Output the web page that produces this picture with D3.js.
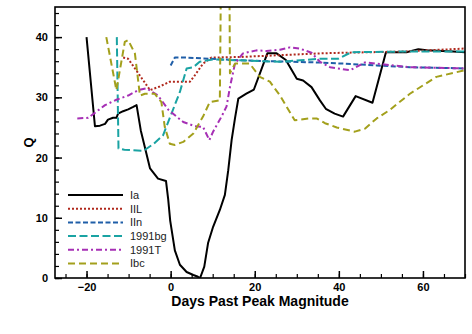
<!DOCTYPE html>
<html>
<head>
<meta charset="utf-8">
<script src="https://cdn.jsdelivr.net/npm/d3@7"></script>
<style>
  body { margin: 0; background: #fff; }
  svg { font-family: "Liberation Sans", Arial, sans-serif; }
</style>
</head>
<body>
<svg id="chart"></svg>
<script>
// values (days past peak, Q)
const iaDays = [-20, -18, -16.8, -15.6, -14.9, -13.7, -12.9, -12.5, -11.3, -10.1, -8.9, -8.1, -7.1, -4.9, -3, -1.1, -0.6, -0.1, 1, 2.2, 3.8, 5.4, 6.5, 7, 8, 8.9, 10.1, 11.7, 12.9, 13.7, 14.5, 15.3, 16.1, 18, 19.8, 23, 25.2, 27.4, 30, 31.5, 33.5, 35.5, 36.9, 39, 41, 44, 48, 51.2, 56.1, 58.9, 60.9, 67.2, 70];
const iaQ = [40, 25.2, 25.3, 25.6, 26.3, 26.6, 26.6, 27.3, 27.7, 28, 28.4, 28.7, 24.5, 18.2, 16.5, 16.1, 13.2, 9.5, 4.6, 2.2, 1, 0.5, 0.2, 0, 1.9, 5.8, 8.5, 11.3, 13.8, 17.9, 22.9, 26.5, 29.8, 30.6, 31.3, 37.3, 37.3, 36.2, 33.1, 32.8, 31.7, 29.5, 28.1, 27.3, 26.8, 30.2, 29.1, 37.5, 37.5, 38, 37.8, 37.6, 37.5];

const iilDays = [-11.3, -10.1, -7.7, -4.9, -2.6, -0.2, 4.6, 5.8, 7.7, 9.7, 16.5, 26, 35.5, 41, 55, 70];
const iilQ = [36.6, 36.4, 34, 31.2, 31.8, 32.6, 32.6, 33.7, 35.6, 36.6, 36.7, 37, 37.3, 37.4, 37.6, 38.1];

const iinDays = [0, 1, 3.8, 14.9, 23.6, 34.7, 41, 49, 56.9, 70];
const iinQ = [35.3, 36.6, 36.6, 36.2, 36.0, 35.8, 35.6, 35.3, 35.0, 34.8];

const bgDays = [-12.8, -12.4, -11, -6.5, -4, -1.8, 0.2, 2.2, 3.8, 5.4, 6.9, 10.1, 26, 35.5, 39.8, 43, 55, 70];
const bgQ = [40, 21.5, 21.3, 21.1, 22.3, 23.7, 27.3, 30.9, 34.8, 35.0, 35.9, 36.3, 35.9, 36.4, 36.4, 37.5, 37.6, 37.6];

const tDays = [-22.2, -19.6, -15.6, -12.9, -10.1, -7.7, -5.7, -3, -0.5, 3, 5.8, 7.7, 9.2, 10.1, 12.1, 13.3, 14.1, 15.3, 17.2, 20.4, 22.8, 26, 28.4, 30.7, 33.5, 35.5, 37.9, 42.7, 46.2, 49, 56.9, 70];
const tQ = [26.5, 26.6, 28.7, 29.6, 30.3, 31.2, 31.5, 30.3, 27.9, 25.9, 25.2, 25.1, 22.9, 24.3, 26.8, 28.5, 31.7, 35.6, 37.3, 37.8, 37.7, 37.9, 38.3, 38.1, 37.4, 35.9, 35.0, 34.5, 35.8, 35.6, 35.0, 34.8];

const ibcDays = [-15.3, -12.9, -10.9, -10.1, -8.5, -7.3, -6.1, -3.8, -2.2, -1.4, -0.2, 1, 3, 5.4, 7.7, 9.3, 11.7, 12.1, 13.9, 14.1, 15.3, 18.8, 21.2, 23.6, 26, 27.6, 29.5, 33.1, 34.7, 36.7, 39.5, 43.8, 46.2, 49, 52.1, 56.9, 63.2, 70];
const ibcQ = [40, 31.2, 39.2, 39.5, 37.3, 30.3, 30.6, 30.6, 29.2, 25.1, 22.3, 22.1, 22.6, 24, 26.8, 29.2, 29.5, 60, 60, 34, 35.6, 35.6, 33.4, 32.6, 30.3, 28.4, 26.2, 26.5, 26.5, 25.7, 25.0, 24.3, 24.8, 26.5, 27.9, 30.6, 33.4, 34.5];

const seriesNames = ["Ia", "IIL", "IIn", "1991bg", "1991T", "Ibc"];
const xTicks = [-20, 0, 20, 40, 60];
const yTicks = [0, 10, 20, 30, 40];

const width = 472;
const height = 334;
const margin = { top: 7, right: 7, bottom: 56, left: 55 };

const series = [
  { name: seriesNames[0], days: iaDays, q: iaQ, color: "#000000", dash: null },
  { name: seriesNames[1], days: iilDays, q: iilQ, color: "#b0281c", dash: "2,2" },
  { name: seriesNames[2], days: iinDays, q: iinQ, color: "#1f5ea8", dash: "5,2.5" },
  { name: seriesNames[3], days: bgDays, q: bgQ, color: "#1aa3a3", dash: "8,3.5" },
  { name: seriesNames[4], days: tDays, q: tQ, color: "#a62fb5", dash: "6,3,2,3" },
  { name: seriesNames[5], days: ibcDays, q: ibcQ, color: "#a3a01c", dash: "7,4" }
];

const svg = d3.select("#chart")
  .attr("width", width)
  .attr("height", height);

const x = d3.scaleLinear()
  .domain([-27.5, 70])
  .range([margin.left, width - margin.right]);

const y = d3.scaleLinear()
  .domain([0, 45])
  .range([height - margin.bottom, margin.top]);

svg.append("defs").append("clipPath")
  .attr("id", "plot-clip")
  .append("rect")
  .attr("x", margin.left)
  .attr("y", margin.top)
  .attr("width", width - margin.left - margin.right)
  .attr("height", height - margin.top - margin.bottom);

// minor ticks
svg.append("g")
  .attr("transform", `translate(0,${height - margin.bottom})`)
  .call(d3.axisBottom(x).tickValues(d3.range(-25, 71, 5)).tickSize(-4).tickFormat(""))
  .call(g => g.select(".domain").remove())
  .selectAll("line").attr("stroke-width", 1.2);

svg.append("g")
  .attr("transform", `translate(${margin.left},0)`)
  .call(d3.axisLeft(y).tickValues(d3.range(0, 45, 2)).tickSize(-4).tickFormat(""))
  .call(g => g.select(".domain").remove())
  .selectAll("line").attr("stroke-width", 1.2);

// major ticks + labels
const xAxis = svg.append("g")
  .attr("transform", `translate(0,${height - margin.bottom})`)
  .call(d3.axisBottom(x).tickValues(xTicks).tickSize(-7).tickPadding(5))
  .call(g => g.select(".domain").remove());
xAxis.selectAll("line").attr("stroke-width", 1.5);
xAxis.selectAll("text")
  .attr("font-size", 11).attr("font-weight", "bold").attr("fill", "#000")
  .attr("font-family", "Liberation Sans, Arial, sans-serif");

const yAxis = svg.append("g")
  .attr("transform", `translate(${margin.left},0)`)
  .call(d3.axisLeft(y).tickValues(yTicks).tickSize(-7).tickPadding(7))
  .call(g => g.select(".domain").remove());
yAxis.selectAll("line").attr("stroke-width", 1.5);
yAxis.selectAll("text")
  .attr("font-size", 11).attr("font-weight", "bold").attr("fill", "#000")
  .attr("font-family", "Liberation Sans, Arial, sans-serif");

// lines
const line = d3.line()
  .x(d => x(d[0]))
  .y(d => y(d[1]));

const plot = svg.append("g").attr("clip-path", "url(#plot-clip)");

series.forEach(s => {
  plot.append("path")
    .datum(s.days.map((d, i) => [d, s.q[i]]))
    .attr("fill", "none")
    .attr("stroke", s.color)
    .attr("stroke-width", 2)
    .attr("stroke-dasharray", s.dash)
    .attr("stroke-linejoin", "round")
    .attr("d", line);
});

// frame
svg.append("rect")
  .attr("x", margin.left)
  .attr("y", margin.top)
  .attr("width", width - margin.left - margin.right)
  .attr("height", height - margin.top - margin.bottom)
  .attr("fill", "none")
  .attr("stroke", "#000")
  .attr("stroke-width", 1.6);

// axis titles
svg.append("text")
  .attr("x", (margin.left + width - margin.right) / 2)
  .attr("y", 306)
  .attr("text-anchor", "middle")
  .attr("font-size", 14)
  .attr("font-weight", "bold")
  .text("Days Past Peak Magnitude");

svg.append("text")
  .attr("transform", `translate(33,${(margin.top + height - margin.bottom) / 2}) rotate(-90)`)
  .attr("text-anchor", "middle")
  .attr("font-size", 13)
  .attr("font-weight", "bold")
  .text("Q");

// legend
const legend = svg.selectAll(".legend")
  .data(series)
  .enter()
  .append("g")
  .attr("class", "legend")
  .attr("transform", (d, i) => `translate(68, ${195 + i * 13.7})`);

legend.append("line")
  .attr("x1", 0)
  .attr("x2", 55)
  .attr("stroke", d => d.color)
  .attr("stroke-width", 2)
  .attr("stroke-dasharray", d => d.dash);

legend.append("text")
  .attr("x", 62)
  .attr("dy", "0.35em")
  .attr("font-size", 11)
  .attr("fill", "#222")
  .text(d => d.name);
</script>
</body>
</html>
